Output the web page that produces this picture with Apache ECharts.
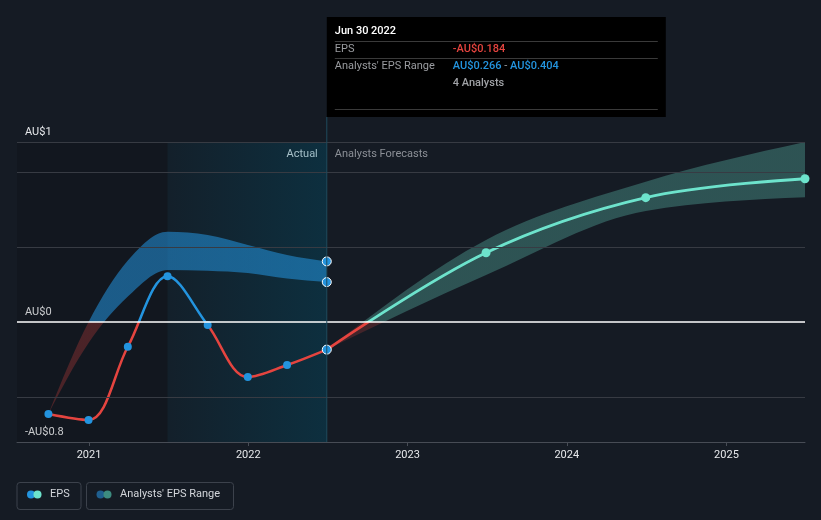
<!DOCTYPE html>
<html><head><meta charset="utf-8">
<script src="https://cdn.jsdelivr.net/npm/echarts@6/dist/echarts.min.js"></script>
<style>html,body{margin:0;padding:0;background:#151b24;}#c{width:821px;height:520px;}</style>
</head><body><div id="c"></div>
<script>
// ---- data ----
const pastDates = ['2020-09-30','2020-12-31','2021-03-31','2021-06-30','2021-09-30','2021-12-31','2022-03-31','2022-06-30'];
const pastEps = [-0.613,-0.653,-0.165,0.305,-0.02,-0.367,-0.287,-0.184];
const pastRangeLow = [-0.613,-0.14,0.17,0.347,0.342,0.327,0.29,0.266];
const pastRangeHigh = [-0.613,0.0,0.41,0.602,0.58,0.513,0.447,0.404];
const fcDates = ['2022-06-30','2023-06-30','2024-06-30','2025-06-30'];
const fcEps = [-0.184,0.462,0.829,0.955];
const fcLow = [-0.184,0.313,0.74,0.831];
const fcHigh = [-0.184,0.547,0.935,1.2];
const yearTicks = ['2021-01-01','2022-01-01','2023-01-01','2024-01-01','2025-01-01'];
const yLabelValues = [-0.8, 0, 1.2];
const yLabelTexts = ['-AU$0.8', 'AU$0', 'AU$1'];
const gridValues = [-0.5, 0.5, 1.0, 1.2];
const xMin = '2020-07-20', xMax = '2025-06-30';
const yMin = -0.8, yMax = 1.2;
const analystsCount = 4;
const tipDateLabel = 'Jun 30 2022';

// ---- styles ----
const RED = '#e5443f', BLUE = '#2394df', TEAL = '#6de3cc';
const FONT = 'Roboto, "Noto Sans", sans-serif';
const ts = s => +new Date(s + 'T00:00:00Z');

const chart = echarts.init(document.getElementById('c'));
const pair = (ds, vs) => ds.map((d, i) => [ts(d), vs[i]]);
const SM = 0.35;

const base = {
  animation: false,
  backgroundColor: '#151b24',
  grid: { left: 17, right: 16, top: 142, bottom: 78, containLabel: false },
  xAxis: {
    type: 'value', min: ts(xMin), max: ts(xMax),
    axisLine: { show: true, onZero: false, lineStyle: { color: '#474c55', width: 1 } },
    axisTick: { show: true, customValues: yearTicks.map(ts), length: 4, lineStyle: { color: '#474c55' } },
    axisLabel: { customValues: yearTicks.map(ts), color: '#e6e8eb', fontSize: 11, fontFamily: FONT, margin: 8,
      formatter: v => String(new Date(v).getUTCFullYear()) },
    splitLine: { show: false }
  },
  yAxis: {
    type: 'value', min: yMin, max: yMax,
    axisLine: { show: false }, axisTick: { show: false }, splitLine: { show: false },
    axisLabel: { inside: true, customValues: yLabelValues, margin: 8, color: '#e6e8eb', fontSize: 11, fontFamily: FONT,
      verticalAlign: 'bottom', padding: [0, 0, 4, 0],
      formatter: v => { const i = yLabelValues.findIndex(x => Math.abs(x - v) < 1e-6); return i >= 0 ? yLabelTexts[i] : ''; } }
  },
  series: [{ type: 'line', data: [] }]
};
chart.setOption(base);

// pixel positions from the axes, to split colours at zero
const px = chart.convertToPixel({ xAxisIndex: 0 }, ts(pastDates[7]));
const yTop = chart.convertToPixel({ yAxisIndex: 0 }, yMax);
const yBot = chart.convertToPixel({ yAxisIndex: 0 }, yMin);
const yZero = chart.convertToPixel({ yAxisIndex: 0 }, 0);
const f0 = (yZero - yTop) / (yBot - yTop);
const split = (above, below) => new echarts.graphic.LinearGradient(0, yTop, 0, yBot, [
  { offset: 0, color: above }, { offset: f0, color: above }, { offset: f0, color: below }, { offset: 1, color: below }], true);

// monotone-x cubic path through pixel points (d3-style)
function monoSegments(pts) {
  const n = pts.length, m = new Array(n).fill(0);
  const s = [];
  for (let i = 0; i < n - 1; i++) s.push((pts[i + 1][1] - pts[i][1]) / (pts[i + 1][0] - pts[i][0]));
  for (let i = 1; i < n - 1; i++) {
    const h0 = pts[i][0] - pts[i - 1][0], h1 = pts[i + 1][0] - pts[i][0];
    const p = (s[i - 1] * h1 + s[i] * h0) / (h0 + h1);
    m[i] = (Math.sign(s[i - 1]) + Math.sign(s[i])) * Math.min(Math.abs(s[i - 1]), Math.abs(s[i]), 0.5 * Math.abs(p)) || 0;
  }
  if (n > 2) {
    m[0] = (3 * s[0] - m[1]) / 2;
    m[n - 1] = (3 * s[n - 2] - m[n - 2]) / 2;
  } else { m[0] = m[n - 1] = s[0] || 0; }
  const segs = [];
  for (let i = 0; i < n - 1; i++) {
    const dx = (pts[i + 1][0] - pts[i][0]) / 3;
    segs.push([[pts[i][0] + dx, pts[i][1] + dx * m[i]], [pts[i + 1][0] - dx, pts[i + 1][1] - dx * m[i + 1]], pts[i + 1]]);
  }
  return segs;
}
function bandPath(api, dates, lo, hi) {
  const top = dates.map((d, i) => api.coord([ts(d), hi[i]]));
  const bot = dates.map((d, i) => api.coord([ts(d), lo[i]]));
  let p = 'M' + top[0][0] + ' ' + top[0][1];
  monoSegments(top).forEach(s => { p += 'C' + s[0][0] + ' ' + s[0][1] + ' ' + s[1][0] + ' ' + s[1][1] + ' ' + s[2][0] + ' ' + s[2][1]; });
  const bl = bot.length - 1;
  p += 'L' + bot[bl][0] + ' ' + bot[bl][1];
  const rb = bot.slice().reverse();
  // reverse traversal: compute segments on forward then reverse each
  const fs = monoSegments(bot);
  for (let i = fs.length - 1; i >= 0; i--) {
    const start = bot[i];
    p += 'C' + fs[i][1][0] + ' ' + fs[i][1][1] + ' ' + fs[i][0][0] + ' ' + fs[i][0][1] + ' ' + start[0] + ' ' + start[1];
  }
  return p + 'Z';
}
const bandSeries = (dates, lo, hi, fill) => ({
  type: 'custom', z: 1, silent: true, clip: true,
  encode: { x: 0, y: [1, 2] },
  data: dates.map((d, i) => [ts(d), lo[i], hi[i]]),
  renderItem: (params, api) => params.dataIndex !== 0 ? null : ({
    type: 'path', shape: { pathData: bandPath(api, dates, lo, hi) }, style: { fill: fill, stroke: null }
  })
});

chart.setOption({
  series: [
    { // 0 shaded periods
      type: 'line', data: [], z: 0, silent: true,
      markArea: { silent: true, data: [
        [{ xAxis: ts(xMin), itemStyle: { color: 'rgba(0,0,0,0.13)' } }, { xAxis: ts(pastDates[3]) }],
        [{ xAxis: ts(pastDates[3]), itemStyle: { color: new echarts.graphic.LinearGradient(0, 0, 1, 0, [
          { offset: 0, color: 'rgba(2,75,100,0.10)' }, { offset: 1, color: 'rgba(2,75,100,0.42)' }]) } },
         { xAxis: ts(pastDates[7]) }]
      ] }
    },
    // 1 past analyst range band
    bandSeries(pastDates, pastRangeLow, pastRangeHigh, split('rgba(35,148,223,0.55)', 'rgba(229,68,63,0.27)')),
    // 2 forecast range band
    bandSeries(fcDates, fcLow, fcHigh, split('rgba(110,229,207,0.28)', 'rgba(229,68,63,0.22)')),
    { // 3 grid lines
      type: 'line', data: [], z: 2, silent: true,
      markLine: { silent: true, symbol: 'none', label: { show: false }, data:
        gridValues.map(v => ({ yAxis: v, lineStyle: { color: '#373b43', width: 1, type: 'solid' } }))
          .concat([{ yAxis: 0, lineStyle: { color: '#ffffff', width: 1.6, type: 'solid' } }]) }
    },
    { // 4 past EPS line
      type: 'line', data: pair(pastDates, pastEps), smooth: SM, showSymbol: false,
      lineStyle: { width: 2.5, color: split(BLUE, RED) }, z: 3, silent: true
    },
    { // 5 forecast EPS line
      type: 'line', data: pair(fcDates, fcEps), smooth: SM, showSymbol: false,
      lineStyle: { width: 2.8, color: split(TEAL, RED) }, z: 3, silent: true
    },
    { // 6 past EPS points
      type: 'scatter', z: 4, symbolSize: 8, silent: true,
      data: pair(pastDates, pastEps).map((p, i) => i === pastDates.length - 1
        ? { value: p, symbolSize: 9, itemStyle: { color: BLUE, opacity: 1, borderColor: '#fff', borderWidth: 1 } }
        : { value: p, itemStyle: { color: BLUE, opacity: 1 } })
    },
    { // 7 range endpoints
      type: 'scatter', z: 4, symbolSize: 9, silent: true,
      itemStyle: { color: BLUE, opacity: 1, borderColor: '#fff', borderWidth: 1 },
      data: [[ts(pastDates[7]), pastRangeLow[7]], [ts(pastDates[7]), pastRangeHigh[7]]]
    },
    { // 8 forecast points
      type: 'scatter', z: 4, symbolSize: 9, silent: true, itemStyle: { color: TEAL, opacity: 1 },
      data: pair(fcDates, fcEps).slice(1)
    }
  ]
});

// ---- overlay (tooltip, labels, legend) ----
const fmt = v => (v < 0 ? '-' : '') + 'AU$' + Math.abs(v).toFixed(3);
const T = (x, y, text, fill, extra) => ({ type: 'text', x, y, style: Object.assign({ text, fill, font: '11px ' + FONT, verticalAlign: 'middle', align: 'left' }, extra || {}) });
const tipX = px, tipY = 17, tipW = 339, tipH = 100;

chart.setOption({ graphic: [
  { type: 'line', shape: { x1: px, y1: tipY + tipH, x2: px, y2: yBot }, style: { stroke: '#1f4a5c', lineWidth: 1 }, z: 50 },
  { type: 'group', x: tipX, y: tipY, z: 100, children: [
    { type: 'rect', shape: { x: 0, y: 0, width: tipW, height: tipH }, style: { fill: '#000' } },
    T(8, 14, tipDateLabel, '#ffffff', { font: '500 11px ' + FONT }),
    { type: 'line', shape: { x1: 8, y1: 24.5, x2: tipW - 8, y2: 24.5 }, style: { stroke: '#3a3a3a', lineWidth: 1 } },
    T(8, 32.5, 'EPS', '#9a9ca0'),
    T(126, 32.5, fmt(pastEps[7]), RED, { font: '500 11px ' + FONT }),
    { type: 'line', shape: { x1: 8, y1: 41.5, x2: tipW - 8, y2: 41.5 }, style: { stroke: '#3a3a3a', lineWidth: 1 } },
    T(8, 49.5, "Analysts' EPS Range", '#9a9ca0'),
    { type: 'text', x: 126, y: 49.5, style: { text: '{b|' + fmt(pastRangeLow[7]) + '}{g| - }{b|' + fmt(pastRangeHigh[7]) + '}',
      verticalAlign: 'middle', font: '11px ' + FONT,
      rich: { b: { fill: BLUE, font: '500 11px ' + FONT }, g: { fill: '#9a9ca0', font: '11px ' + FONT } } } },
    T(126, 66.5, analystsCount + ' Analysts', '#a0a2a6', { font: '500 11px ' + FONT }),
    { type: 'line', shape: { x1: 8, y1: 92.5, x2: tipW - 8, y2: 92.5 }, style: { stroke: '#3a3a3a', lineWidth: 1 } }
  ] },
  T(px - 9, yTop + 12, 'Actual', '#ffffff', { align: 'right' }),
  T(px + 8, yTop + 12, 'Analysts Forecasts', '#8c9097'),
  // legend
  { type: 'group', x: 0, y: 0, z: 100, children: [
    { type: 'rect', shape: { x: 17, y: 482.5, width: 64, height: 27, r: 3 }, style: { fill: 'none', stroke: '#3c424c', lineWidth: 1 } },
    { type: 'circle', shape: { cx: 31, cy: 494.5, r: 4 }, style: { fill: BLUE } },
    { type: 'circle', shape: { cx: 37.5, cy: 494.5, r: 4 }, style: { fill: TEAL } },
    T(50, 494.5, 'EPS', '#d3d6db'),
    { type: 'rect', shape: { x: 86.5, y: 482.5, width: 147, height: 27, r: 3 }, style: { fill: 'none', stroke: '#3c424c', lineWidth: 1 } },
    { type: 'circle', shape: { cx: 100.5, cy: 494.5, r: 4 }, style: { fill: '#1f5f8f' } },
    { type: 'circle', shape: { cx: 107.5, cy: 494.5, r: 4 }, style: { fill: '#3d8c80' } },
    T(120, 494.5, "Analysts' EPS Range", '#d3d6db')
  ] }
] });
</script></body></html>
